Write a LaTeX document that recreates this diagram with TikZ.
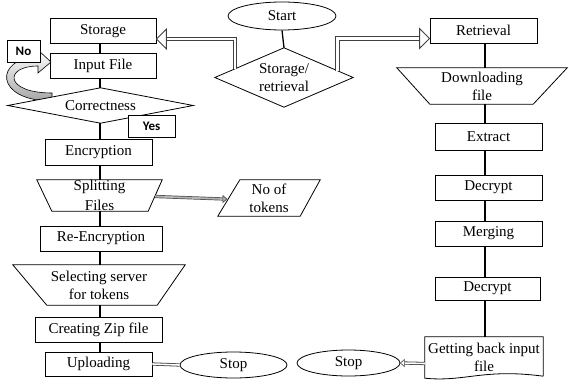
\documentclass[tikz,border=0pt]{standalone}
\usepackage{fontspec}
\IfFontExistsTF{LiberationSerif-Regular.ttf}
  {\newfontfamily\tnr{LiberationSerif-Regular.ttf}}
  {\newfontfamily\tnr{Latin Modern Roman}}
\newfontfamily\lblfont{Carlito}
\usetikzlibrary{shapes.geometric,calc}
\begin{document}
\begin{tikzpicture}[x=1pt,y=-1pt,
  every node/.style={font=\tnr\fontsize{15}{18}\selectfont},
  box/.style={draw, line width=0.8pt, fill=white, inner sep=0pt, minimum height=25pt},
  ghost/.style={inner sep=0pt, align=center},
  outline/.style={draw, line width=0.8pt},
  oval/.style={draw, ellipse, line width=0.8pt, inner sep=0pt},
  lbl/.style={draw, line width=0.8pt, fill=white, inner sep=0pt, minimum width=33pt, minimum height=22pt, font=\lblfont\bfseries\fontsize{13}{15}\selectfont},
  link/.style={line width=1.3pt},
  dbl/.style={draw=black!75, double=white, double distance=2.6pt, line width=1pt},
  dbls/.style={draw=black!75, double=white, double distance=1.6pt, line width=0.8pt},
  dblg/.style={draw=black!70, double=gray!60, double distance=1.8pt, line width=0.7pt},
  head/.style={draw=black!75, fill=white, line width=0.9pt, line join=miter}
]
\useasboundingbox (0,0) rectangle (569,385);
\coordinate (lspine) at (100,0);
\coordinate (rspine) at (485,0);

% ---- top
\node[oval, minimum width=108pt, minimum height=28pt] (start) at (282,16) {Start};
\node[ghost, minimum width=138pt, minimum height=59pt] (sr) at (284,77.5) {Storage/\\retrieval};
\draw[outline] (sr.west) -- (sr.north) -- (sr.east) -- (sr.south) -- cycle;
\draw[link] (start.south) -- (sr.north);

% ---- left column
\node[box, minimum width=106pt] (storage) at (103,31) {Storage};
\node[box, minimum width=106pt] (input) at (103,65.5) {Input File};

\shadedraw[top color=white, bottom color=gray!70, line width=0.6pt]
  (52,101) .. controls (-6,101) and (-6,58) .. (38,57) -- (38,50) -- (51,62) -- (38,73) -- (38,66)
  .. controls (4,66) and (4,93) .. (52,93) -- cycle;

\node[ghost, minimum width=185pt, minimum height=35pt] (corr) at (100.5,105.5) {};
\draw[outline, fill=white] (corr.west) -- (corr.north) -- (corr.east) -- (corr.south) -- cycle;
\node at (corr) {Correctness};

\node[lbl] (no) at (23.5,51) {No};
\node[lbl, minimum width=47pt] (yes) at (151.5,126) {Yes};

\node[box, minimum width=107pt, minimum height=26pt] (enc) at (98.5,152) {Encryption};

\node[ghost, minimum width=125pt, minimum height=31pt, font=\tnr\fontsize{15}{20}\selectfont] (split) at (99.5,195.5) {Splitting\\Files};
\draw[outline] (split.north west) -- (split.north east) -- ([xshift=-14pt]split.south east) -- ([xshift=15pt]split.south west) -- cycle;

\node[ghost, minimum width=102pt, minimum height=36pt] (tokens) at (269,198) {No of\\tokens};
\draw[outline] ([xshift=22pt]tokens.north west) -- (tokens.north east) -- ([xshift=-20pt]tokens.south east) -- (tokens.south west) -- cycle;

\node[box, minimum width=122pt] (reenc) at (101,238.5) {Re-Encryption};

\node[ghost, minimum width=172pt, minimum height=40pt] (select) at (99,285) {Selecting server\\for tokens};
\draw[outline] (select.north west) -- (select.north east) -- ([xshift=-28pt]select.south east) -- ([xshift=34pt]select.south west) -- cycle;

\node[box, minimum width=127pt] (zip) at (98.5,329.5) {Creating Zip file};
\node[box, minimum width=107pt, minimum height=24pt] (upload) at (98.5,364) {Uploading};
\node[oval, minimum width=107pt, minimum height=26pt] (stopl) at (233.5,365) {Stop};

% ---- right column
\node[box, minimum width=107pt] (retr) at (483.5,30.5) {Retrieval};
\node[ghost, minimum width=170pt, minimum height=36pt] (down) at (482,86) {Downloading\\file};
\draw[outline] (down.north west) -- (down.north east) -- ([xshift=-34pt]down.south east) -- ([xshift=33pt]down.south west) -- cycle;
\node[box, minimum width=107pt, minimum height=27pt] (extract) at (488.5,136.5) {Extract};
\node[box, minimum width=107pt] (dec1) at (488.5,187.5) {Decrypt};
\node[box, minimum width=107pt] (merge) at (488.5,233.5) {Merging};
\node[box, minimum width=105pt, minimum height=23pt] (dec2) at (487.5,288.5) {Decrypt};
\node[ghost, minimum width=118pt, minimum height=41pt] (getback) at (484,357.5) {Getting back input\\file};
\draw[outline] ([yshift=2pt]getback.south east) -- (getback.north east) -- (getback.north west) -- (getback.south west)
  .. controls +(40,4) and +(-60,-8) .. ([yshift=2pt]getback.south east);
\node[oval, minimum width=103pt, minimum height=26pt] (stopr) at (348.5,363) {Stop};

% ---- single connectors
\draw[link] (storage.south -| lspine) -- (input.north -| lspine);
\draw[link] (input.south -| lspine) -- (corr.north -| lspine);
\draw[link] (corr.south -| lspine) -- (enc.north -| lspine);
\draw[link] (enc.south -| lspine) -- (split.north -| lspine);
\draw[link] (split.south -| lspine) -- (reenc.north -| lspine);
\draw[link] (reenc.south -| lspine) -- (select.north -| lspine);
\draw[link] (select.south -| lspine) -- (zip.north -| lspine);
\draw[link] (zip.south -| lspine) -- (upload.north -| lspine);

\draw[link] (retr.south -| rspine) -- (down.north -| rspine);
\draw[link] (down.south -| rspine) -- (extract.north -| rspine);
\draw[link] (extract.south -| rspine) -- (dec1.north -| rspine);
\draw[link] (dec1.south -| rspine) -- (merge.north -| rspine);
\draw[link] (merge.south -| rspine) -- (dec2.north -| rspine);
\draw[link] (dec2.south -| rspine) -- (getback.north -| rspine);

% ---- double arrows
\coordinate (srl) at ($(sr.west)!0.29!(sr.north)$);
\coordinate (srr) at ($(sr.east)!0.23!(sr.north)$);
\coordinate (tipL) at ([yshift=-8pt]storage.east);
\coordinate (tipR) at ([yshift=-8pt]retr.west);
\draw[dbl] (srl) |- ([xshift=9pt]tipL);
\draw[head] (tipL) -- ++(10,-10) -- ++(0,20) -- cycle;
\draw[dbl] (srr) |- ([xshift=-9pt]tipR);
\draw[head] (tipR) -- ++(-10,-10) -- ++(0,20) -- cycle;

\coordinate (tipT) at ([xshift=9pt,yshift=-1pt]tokens.west);
\draw[dblg] ([xshift=-7pt,yshift=-1pt]split.east) -- ([xshift=-3pt]tipT);
\draw[head, line width=0.6pt, fill=gray!60] (tipT) -- ++(-4,-3.5) -- ++(0,7) -- cycle;

\draw[dbls] (upload.east) -- (stopl.west);
\coordinate (tipS) at (stopr.east);
\draw[dbls] ([yshift=-6pt]getback.west) -- ([xshift=3pt]tipS);
\draw[head, line width=0.6pt] (tipS) -- ++(4,-3.5) -- ++(0,7) -- cycle;
\end{tikzpicture}
\end{document}
